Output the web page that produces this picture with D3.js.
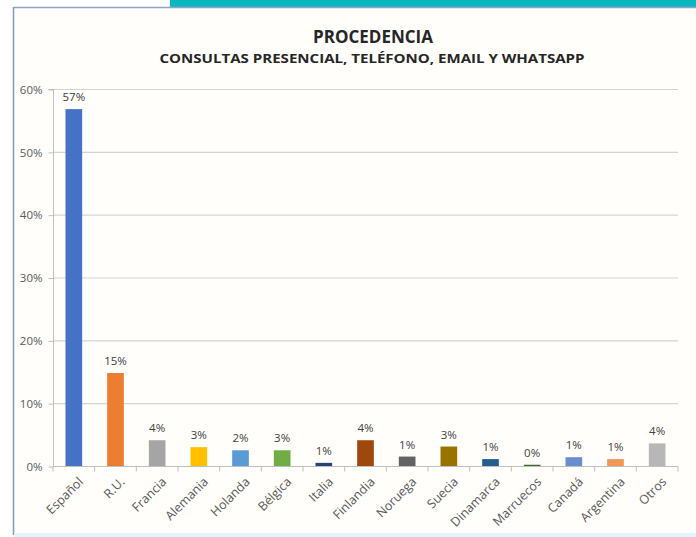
<!DOCTYPE html>
<html><head><meta charset="utf-8">
<script src="https://cdn.jsdelivr.net/npm/d3@7"></script>
<style>html,body{margin:0;padding:0;background:#fff;}svg{display:block;}</style>
</head><body>
<script>
const categories = ["Español","R.U.","Francia","Alemania","Holanda","Bélgica","Italia","Finlandia","Noruega","Suecia","Dinamarca","Marruecos","Canadá","Argentina","Otros"];
const values = [0.568, 0.148, 0.041, 0.030, 0.025, 0.025, 0.005, 0.041, 0.015, 0.031, 0.011, 0.002, 0.014, 0.011, 0.036];
const valueLabels = ["57%","15%","4%","3%","2%","3%","1%","4%","1%","3%","1%","0%","1%","1%","4%"];
const colors = ["#4472C4","#ED7D31","#A5A5A5","#FFC000","#5B9BD5","#70AD47","#264478","#9E480E","#636363","#997300","#255E91","#43682B","#698ED0","#F1975A","#B7B7B7"];
const yTicks = [0,0.1,0.2,0.3,0.4,0.5,0.6];
const title = "PROCEDENCIA";
const subtitle = "CONSULTAS PRESENCIAL, TELÉFONO, EMAIL Y WHATSAPP";

(function(){
const W = 696, H = 537;
const svg = d3.select("body").append("svg").attr("width", W).attr("height", H);
const font = "'Open Sans', 'Liberation Sans', sans-serif";

// frame
svg.append("rect").attr("x",0).attr("y",0).attr("width",W).attr("height",H).attr("fill","#fff");
svg.append("rect").attr("x",14).attr("y",8).attr("width",W-14).attr("height",H-11).attr("fill","#fffefb");
svg.append("rect").attr("x",170).attr("y",0).attr("width",W-170).attr("height",7).attr("fill","#0cb6be");
svg.append("line").attr("x1",13.5).attr("x2",W).attr("y1",7.5).attr("y2",7.5).attr("stroke","#8aa6c8").attr("stroke-width",1.5);
svg.append("line").attr("x1",13.5).attr("x2",13.5).attr("y1",7).attr("y2",H-2).attr("stroke","#7e9cc4").attr("stroke-width",1.5);
svg.append("rect").attr("x",14).attr("y",H-4).attr("width",W-14).attr("height",4).attr("fill","#dff7fb");

const pLeft = 53, pRight = 678, pTop = 89, pBottom = 466;
const x = d3.scaleBand().domain(categories).range([pLeft, pRight]).paddingInner(0.6).paddingOuter(0.3);
const y = d3.scaleLinear().domain([0, 0.6]).range([pBottom, pTop]);

// gridlines
svg.append("g").selectAll("line").data(yTicks.filter(d => d > 0)).join("line")
  .attr("x1", pLeft).attr("x2", pRight).attr("y1", d => y(d)+0.5).attr("y2", d => y(d)+0.5)
  .attr("stroke", "#d4d4d4").attr("stroke-width", 1.2);

// y axis
const yAxis = d3.axisLeft(y).tickValues(yTicks).tickFormat(d3.format(".0%")).tickSize(5).tickPadding(6);
const gy = svg.append("g").attr("transform", `translate(${pLeft+0.5},0.5)`).call(yAxis);
gy.select(".domain").attr("stroke", "#bfbfbf").attr("d", `M-5,${pTop}H0V${pBottom}`);
gy.selectAll(".tick line").attr("stroke", "#bfbfbf");
gy.selectAll(".tick text").attr("fill", "#595959").style("font-family", font).style("font-size", "11.5px");

// bars
svg.append("g").selectAll("rect").data(categories).join("rect")
  .attr("x", d => x(d)).attr("width", x.bandwidth())
  .attr("y", (d,i) => y(values[i])).attr("height", (d,i) => pBottom - y(values[i]))
  .attr("fill", (d,i) => colors[i]);

// x axis
const gx = svg.append("g").attr("transform", `translate(0,${pBottom+0.5})`);
gx.append("line").attr("x1", pLeft).attr("x2", pRight).attr("stroke", "#bfbfbf").attr("stroke-width", 1.2);
const edges = d3.range(categories.length + 1).map(i => pLeft + i * (pRight-pLeft)/categories.length);
gx.selectAll("line.tk").data(edges).join("line").attr("class","tk")
  .attr("x1", d => d).attr("x2", d => d).attr("y1", 0).attr("y2", 5).attr("stroke", "#bfbfbf");
gx.selectAll("text").data(categories).join("text")
  .attr("transform", d => `translate(${x(d) + x.bandwidth()/2 + 7},${13}) rotate(-45)`)
  .attr("text-anchor", "end").attr("dy", "0.35em")
  .attr("fill", "#595959").style("font-family", font).style("font-size", "12.5px")
  .text(d => d);

// value labels
svg.append("g").selectAll("text").data(categories).join("text")
  .attr("x", d => x(d) + x.bandwidth()/2).attr("y", (d,i) => y(values[i]) - 8)
  .attr("text-anchor", "middle").attr("fill", "#404040")
  .style("font-family", font).style("font-size", "11.5px")
  .text((d,i) => valueLabels[i]);

// titles
svg.append("text").attr("x", 373).attr("y", 43).attr("text-anchor", "middle")
  .attr("fill", "#262626").style("font-family", font).style("font-weight", "bold").style("font-size", "17px")
  .text(title);
svg.append("text").attr("x", 372).attr("y", 63).attr("text-anchor", "middle")
  .attr("fill", "#262626").style("font-family", font).style("font-weight", "bold").style("font-size", "12px")
  .attr("textLength", 425).attr("lengthAdjust", "spacingAndGlyphs")
  .text(subtitle);
})();
</script>
</body></html>
